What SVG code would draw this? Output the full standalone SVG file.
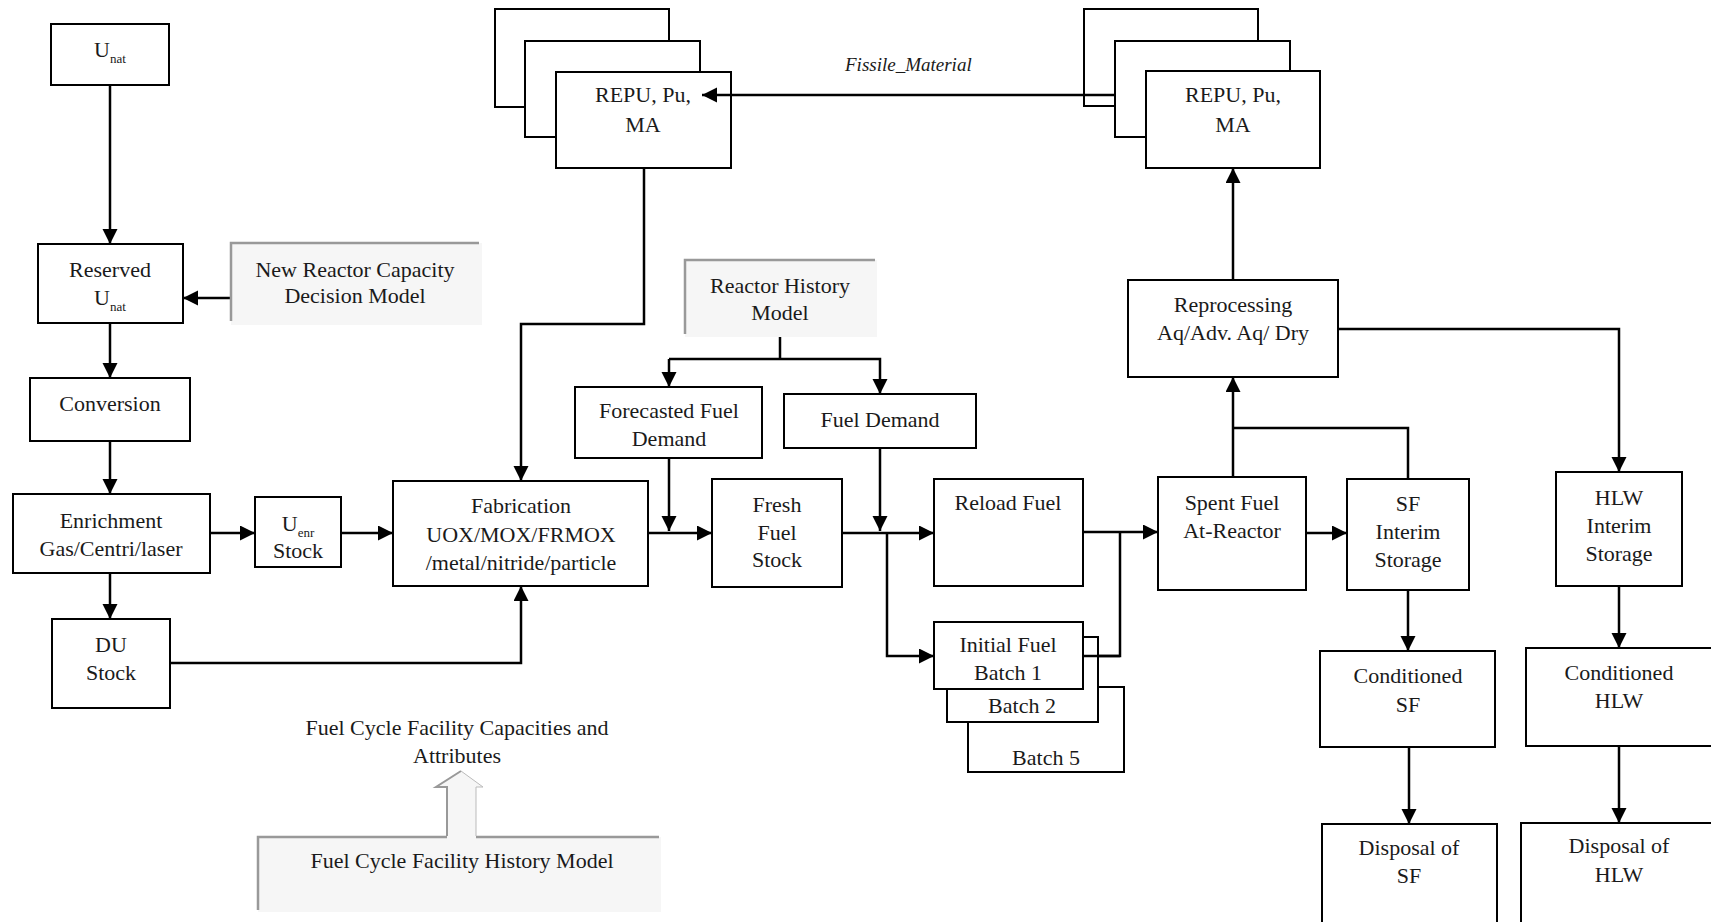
<svg xmlns="http://www.w3.org/2000/svg" width="1711" height="922" viewBox="0 0 1711 922">
<style>
  .box { fill: #fff; stroke: #000; stroke-width: 2; }
  .gbox { fill: #f6f6f6; stroke: none; }
  .gedge { fill: none; stroke: #999; stroke-width: 2.5; }
  .t { font-family: "Liberation Serif", "Times New Roman", serif; font-size: 22px; fill: #1a1a1a; text-anchor: middle; }
  .sub { font-size: 13px; }
  .it { font-family: "Liberation Serif", "Times New Roman", serif; font-size: 19px; font-style: italic; fill: #1a1a1a; }
  .c { fill: none; stroke: #000; stroke-width: 2.5; }
  .ca { fill: none; stroke: #000; stroke-width: 2.5; marker-end: url(#ah); }
</style>
<defs>
  <marker id="ah" markerUnits="userSpaceOnUse" markerWidth="16" markerHeight="16" refX="15" refY="7.5" orient="auto">
    <path d="M0,0 L15,7.5 L0,15 z" fill="#000"/>
  </marker>
</defs>
<rect width="1711" height="922" fill="#fff"/>

<g id="connectors">
  <path class="ca" d="M110,85 V244"/>
  <path class="ca" d="M231,298 H183"/>
  <path class="ca" d="M110,323 V378"/>
  <path class="ca" d="M110,441 V494"/>
  <path class="ca" d="M110,573 V619"/>
  <path class="ca" d="M210,533 H255"/>
  <path class="ca" d="M341,533 H393"/>
  <path class="ca" d="M170,663 H521 V586"/>
  <path class="ca" d="M644,168 V324 H521 V481"/>
  <path class="ca" d="M648,533 H712"/>
  <path class="ca" d="M669,458 V531"/>
  <path class="c" d="M780,335 V359"/>
  <path class="ca" d="M669,359 H880 V394"/>
  <path class="ca" d="M669,359 V387"/>
  <path class="ca" d="M880,448 V531"/>
  <path class="ca" d="M842,533 H934"/>
  <path class="ca" d="M887,533 V656 H934"/>
  <path class="ca" d="M1083,532 H1158"/>
  <path class="c" d="M1083,656 H1120 V532"/>
  <path class="ca" d="M1306,533 H1347"/>
  <path class="ca" d="M1233,477 V377"/>
  <path class="c" d="M1408,479 V428 H1233"/>
  <path class="ca" d="M1338,329 H1619 V472"/>
  <path class="ca" d="M1233,280 V168"/>
  <path class="ca" d="M1408,590 V651"/>
  <path class="ca" d="M1409,747 V824"/>
  <path class="ca" d="M1619,586 V648"/>
  <path class="ca" d="M1619,746 V823"/>
</g>

<g id="unat">
  <rect class="box" x="51" y="24" width="118" height="61"/>
  <text class="t" x="110" y="57">U<tspan class="sub" dy="6">nat</tspan></text>
</g>
<g id="reserved-unat">
  <rect class="box" x="38" y="244" width="145" height="79"/>
  <text class="t" x="110" y="277">Reserved</text>
  <text class="t" x="110" y="305">U<tspan class="sub" dy="6">nat</tspan></text>
</g>
<g id="new-reactor-capacity">
  <rect class="gbox" x="231" y="243" width="251" height="82"/>
  <path class="gedge" d="M231,321 V243 H479"/>
  <text class="t" x="355" y="277">New Reactor Capacity</text>
  <text class="t" x="355" y="303">Decision Model</text>
</g>
<g id="conversion">
  <rect class="box" x="30" y="378" width="160" height="63"/>
  <text class="t" x="110" y="411">Conversion</text>
</g>
<g id="enrichment">
  <rect class="box" x="13" y="494" width="197" height="79"/>
  <text class="t" x="111" y="528">Enrichment</text>
  <text class="t" x="111" y="556">Gas/Centri/laser</text>
</g>
<g id="uenr-stock">
  <rect class="box" x="255" y="497" width="86" height="70"/>
  <text class="t" x="298" y="531">U<tspan class="sub" dy="6">enr</tspan></text>
  <text class="t" x="298" y="558">Stock</text>
</g>
<g id="du-stock">
  <rect class="box" x="52" y="619" width="118" height="89"/>
  <text class="t" x="111" y="652">DU</text>
  <text class="t" x="111" y="680">Stock</text>
</g>
<g id="fabrication">
  <rect class="box" x="393" y="481" width="255" height="105"/>
  <text class="t" x="521" y="513">Fabrication</text>
  <text class="t" x="521" y="542">UOX/MOX/FRMOX</text>
  <text class="t" x="521" y="570">/metal/nitride/particle</text>
</g>
<g id="repu-left">
  <rect class="box" x="495" y="9" width="174" height="98"/>
  <rect class="box" x="525" y="41" width="175" height="96"/>
  <rect class="box" x="556" y="72" width="175" height="96"/>
  <text class="t" x="643" y="102">REPU, Pu,</text>
  <text class="t" x="643" y="132">MA</text>
</g>
<g id="repu-right">
  <rect class="box" x="1084" y="9" width="174" height="97"/>
  <rect class="box" x="1115" y="41" width="175" height="96"/>
  <rect class="box" x="1146" y="71" width="174" height="97"/>
  <text class="t" x="1233" y="102">REPU, Pu,</text>
  <text class="t" x="1233" y="132">MA</text>
</g>
<g id="fissile-label">
  <path class="ca" d="M1116,95 H702"/>
  <text class="it" x="845" y="71">Fissile_Material</text>
</g>
<g id="reactor-history-model">
  <rect class="gbox" x="685" y="260" width="192" height="77"/>
  <path class="gedge" d="M685,334 V260 H875"/>
  <text class="t" x="780" y="293">Reactor History</text>
  <text class="t" x="780" y="320">Model</text>
</g>
<g id="forecasted-fuel-demand">
  <rect class="box" x="575" y="387" width="187" height="71"/>
  <text class="t" x="669" y="418">Forecasted Fuel</text>
  <text class="t" x="669" y="446">Demand</text>
</g>
<g id="fuel-demand">
  <rect class="box" x="784" y="394" width="192" height="54"/>
  <text class="t" x="880" y="427">Fuel Demand</text>
</g>
<g id="fresh-fuel-stock">
  <rect class="box" x="712" y="479" width="130" height="108"/>
  <text class="t" x="777" y="512">Fresh</text>
  <text class="t" x="777" y="540">Fuel</text>
  <text class="t" x="777" y="567">Stock</text>
</g>
<g id="reload-fuel">
  <rect class="box" x="934" y="479" width="149" height="107"/>
  <text class="t" x="1008" y="510">Reload Fuel</text>
</g>
<g id="initial-fuel-batches">
  <rect class="box" x="968" y="687" width="156" height="85"/>
  <text class="t" x="1046" y="765">Batch 5</text>
  <rect class="box" x="947" y="637" width="151" height="85"/>
  <text class="t" x="1022" y="713">Batch 2</text>
  <rect class="box" x="934" y="622" width="149" height="67"/>
  <text class="t" x="1008" y="652">Initial Fuel</text>
  <text class="t" x="1008" y="680">Batch 1</text>
  <path class="c" d="M1083,656 H1120"/>
</g>
<g id="spent-fuel-at-reactor">
  <rect class="box" x="1158" y="477" width="148" height="113"/>
  <text class="t" x="1232" y="510">Spent Fuel</text>
  <text class="t" x="1232" y="538">At-Reactor</text>
</g>
<g id="reprocessing">
  <rect class="box" x="1128" y="280" width="210" height="97"/>
  <text class="t" x="1233" y="312">Reprocessing</text>
  <text class="t" x="1233" y="340">Aq/Adv. Aq/ Dry</text>
</g>
<g id="sf-interim-storage">
  <rect class="box" x="1347" y="479" width="122" height="111"/>
  <text class="t" x="1408" y="511">SF</text>
  <text class="t" x="1408" y="539">Interim</text>
  <text class="t" x="1408" y="567">Storage</text>
</g>
<g id="hlw-interim-storage">
  <rect class="box" x="1556" y="472" width="126" height="114"/>
  <text class="t" x="1619" y="505">HLW</text>
  <text class="t" x="1619" y="533">Interim</text>
  <text class="t" x="1619" y="561">Storage</text>
</g>
<g id="conditioned-sf">
  <rect class="box" x="1320" y="651" width="175" height="96"/>
  <text class="t" x="1408" y="683">Conditioned</text>
  <text class="t" x="1408" y="712">SF</text>
</g>
<g id="disposal-sf">
  <rect class="box" x="1322" y="824" width="175" height="110"/>
  <text class="t" x="1409" y="855">Disposal of</text>
  <text class="t" x="1409" y="883">SF</text>
</g>
<g id="conditioned-hlw">
  <rect class="box" x="1526" y="648" width="200" height="98"/>
  <text class="t" x="1619" y="680">Conditioned</text>
  <text class="t" x="1619" y="708">HLW</text>
</g>
<g id="disposal-hlw">
  <rect class="box" x="1521" y="823" width="205" height="110"/>
  <text class="t" x="1619" y="853">Disposal of</text>
  <text class="t" x="1619" y="882">HLW</text>
</g>
<g id="capacities-label">
  <text class="t" x="457" y="735">Fuel Cycle Facility Capacities and</text>
  <text class="t" x="457" y="763">Attributes</text>
</g>
<g id="facility-history-model">
  <rect class="gbox" x="258" y="837" width="403" height="75"/>
  <path class="gedge" d="M258,910 V837 H447 M476,837 H659"/>
  <polygon points="447,837 447,787 435,787 461,771 483,787 476,787 476,837" fill="#f6f6f6" stroke="none"/>
  <path d="M447,836 V787 H436 L461,771" fill="none" stroke="#999" stroke-width="2"/>
  <path d="M461,771 L483,787 H476 V836" fill="none" stroke="#bbb" stroke-width="1"/>
  <text class="t" x="462" y="868">Fuel Cycle Facility History Model</text>
</g>
</svg>
